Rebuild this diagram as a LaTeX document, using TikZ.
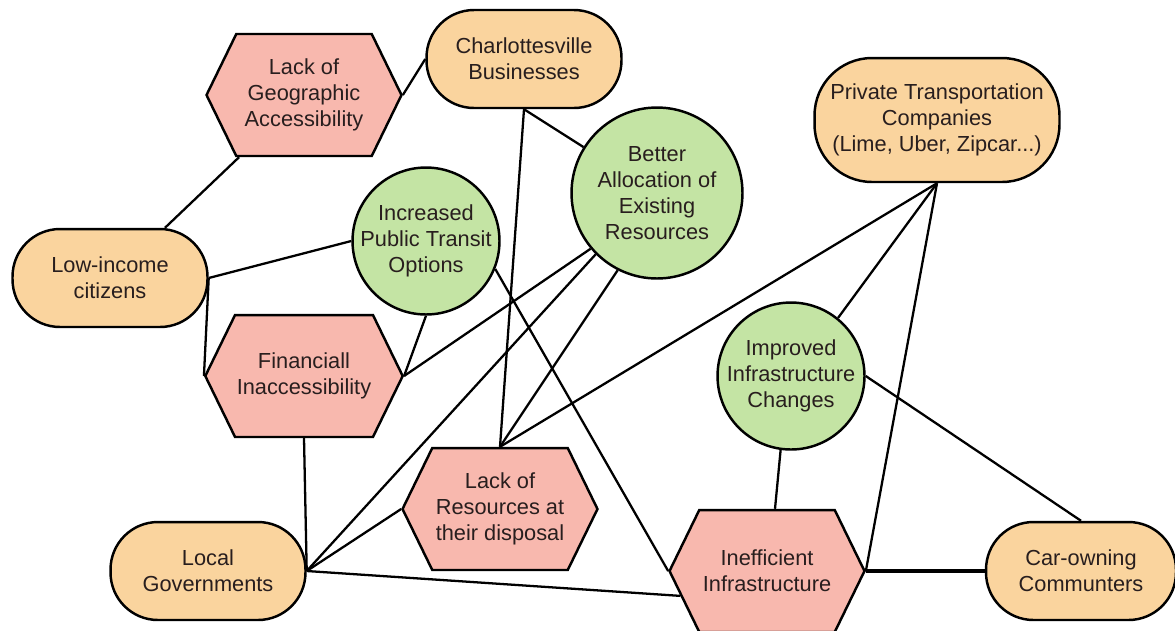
\documentclass[tikz,border=0pt]{standalone}
\usepackage{fontspec}
\setmainfont{Liberation Sans}
\usepackage{tikz}
\usetikzlibrary{shapes.symbols,calc}
\definecolor{peach}{RGB}{250,212,158}
\definecolor{rose}{RGB}{248,184,174}
\definecolor{sage}{RGB}{196,228,164}
\definecolor{ink}{RGB}{40,30,30}
\tikzset{stakeholder/.style={draw, line width=1.4pt, fill=peach, rounded corners=0.95cm,
    minimum width=3.9cm, minimum height=1.96cm, align=center, text=ink,
    font=\fontsize{12.4}{14.8}\selectfont}}
\tikzset{barrier/.style={shape=signal, signal to=east and west, signal pointer angle=128,
    draw, line width=1.4pt, fill=rose, minimum width=3.9cm, minimum height=2.44cm,
    inner sep=1pt, align=center, text=ink, font=\fontsize{12.4}{14.8}\selectfont}}
\tikzset{remedy/.style={circle, draw, line width=1.4pt, fill=sage, minimum size=2.94cm,
    inner sep=-4pt, align=center, text=ink, font=\fontsize{12.4}{14.8}\selectfont}}
\tikzset{link/.style={line width=1.3pt}}

\begin{document}
\begin{tikzpicture}[x=0.02cm, y=-0.02cm]
    \useasboundingbox (0,0) rectangle (1175,630);
    \clip (0,0) rectangle (1175,630);
    \node [stakeholder] (cville) at (524,59) {Charlottesville\\Businesses};
    \node [stakeholder, minimum width=4.9cm, minimum height=2.48cm, rounded corners=1.15cm] (private) at (937,120) {Private Transportation\\Companies\\(Lime, Uber, Zipcar...)};
    \node [stakeholder] (lowinc) at (110,278) {Low-income\\citizens};
    \node [stakeholder] (localgov) at (208,571) {Local\\Governments};
    \node [stakeholder, minimum width=3.8cm] (commuters) at (1081,571) {Car-owning\\Communters};
    \node [barrier] (geo) at (304,95) {Lack of\\Geographic\\Accessibility};
    \node [barrier] (finance) at (304,376) {Financiall\\Inaccessibility};
    \node [barrier] (resources) at (500,509) {Lack of\\Resources at\\their disposal};
    \node [barrier] (infra) at (767,571) {Inefficient\\Infrastructure};
    \node [remedy, minimum size=3.42cm] (alloc) at (657,193) {Better\\Allocation of\\Existing\\Resources};
    \node [remedy] (transit) at (426,241) {Increased\\Public Transit\\Options};
    \node [remedy] (improve) at (791,376) {Improved\\Infrastructure\\Changes};
    \draw [link] (geo.east) -- (cville.west);
    \draw [link] ([xshift=1.1cm]lowinc.north) -- ([xshift=-1.3cm]geo.south);
    \draw [link] (lowinc.east) -- (transit.west);
    \draw [link] (lowinc.east) -- (finance.west);
    \draw [link] (transit.south) -- (finance.east);
    \draw [link] (alloc.220) -- (finance.east);
    \draw [link] (cville.south) -- (resources.north);
    \draw [link] (cville.south) -- (alloc.148);
    \draw [link] (alloc.225) -- (localgov.east);
    \draw [link] (alloc.243) -- (resources.north);
    \draw [link] (private.south) -- (resources.north);
    \draw [link] (private.south) -- (improve.51);
    \draw [link] (private.south) -- (infra.east);
    \draw [link] (finance.south) -- (localgov.east);
    \draw [link] (localgov.east) -- (resources.west);
    \draw [link] (localgov.east) -- (infra.196);
    \draw [link] (transit.338) -- (infra.west);
    \draw [link] (improve.262) -- ([xshift=0.16cm]infra.north);
    \draw [link] (improve.east) -- (commuters.north);
    \draw [link, line width=1.8pt] (infra.east) -- (commuters.west);
\end{tikzpicture}
\end{document}
